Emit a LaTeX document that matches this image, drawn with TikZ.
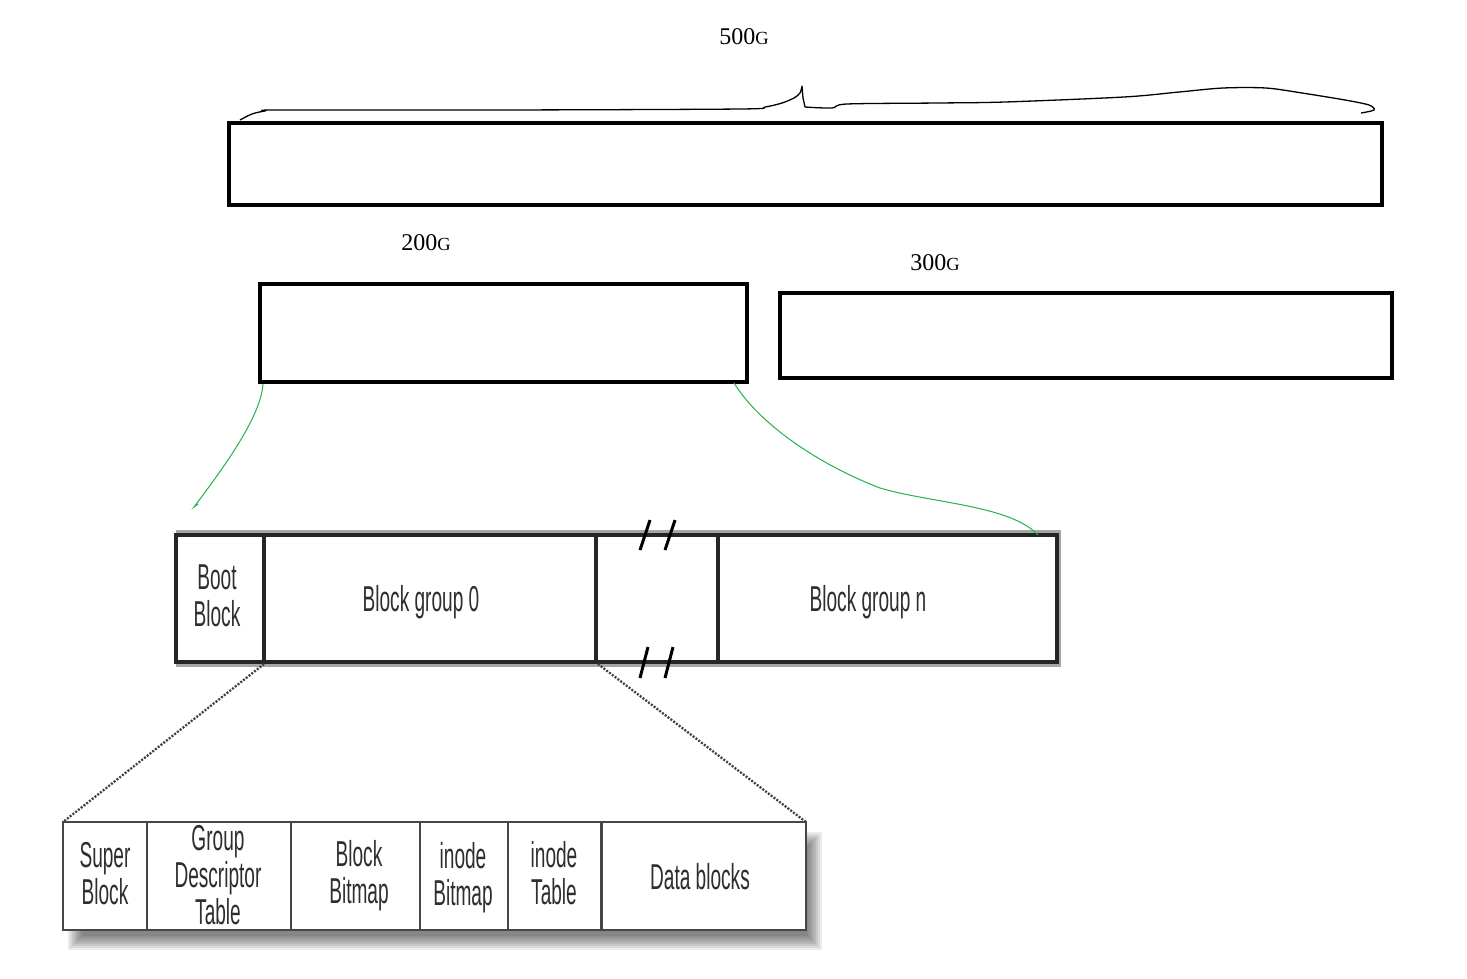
\documentclass[tikz,border=0pt]{standalone}
\usepackage{fontspec}
\usepackage{graphicx}
\newfontfamily\sansc{Liberation Sans}
\newfontfamily\serifc{Liberation Serif}
\definecolor{paintgreen}{RGB}{34,177,76}
\newcommand\cnd[1]{\scalebox{0.53}[1]{\begin{tabular}{@{}c@{}}#1\end{tabular}}}
\newcommand\sizeG[1]{#1{\fontsize{18.5}{20}\selectfont G}}
\begin{document}
\begin{tikzpicture}[x=1pt,y=-1pt,
  thickbox/.style={draw=black, line width=4pt, inner sep=0pt, outer sep=0pt},
  midcell/.style={draw=black!85, fill=white, line width=3.5pt, inner sep=0pt, outer sep=0pt, minimum height=127pt},
  lowcell/.style={draw=black!72, fill=white, line width=2.2pt, inner sep=0pt, outer sep=0pt, minimum height=108pt},
  lbl/.style={font=\sansc\fontsize{36}{36}\selectfont, text=black!82, inner sep=0pt},
  toplbl/.style={font=\serifc\fontsize{24}{26}\selectfont, inner sep=0pt},
  grn/.style={draw=paintgreen, line width=1pt},
  zoomline/.style={draw=black!75, line width=2.3pt, dash pattern=on 2pt off 1.5pt},
  brk/.style={draw=black, line width=3pt}
]
\useasboundingbox (0,0) rectangle (1467,978);

% --- top: whole disk ---
\node[toplbl] (t500) at (744,37) {\sizeG{500}};
\node[thickbox, minimum width=1153pt, minimum height=82pt] (disk) at (805.5,164) {};
\draw[line width=1.3pt, line join=round]
  plot[smooth, tension=0.5] coordinates {(240,120) (252,114) (265,111) (280,110) (500,110) (740,109) (765,107) (782,103) (794,98) (800,93) (802,86)}
  -- (803,98) -- (805,107)
  plot[smooth, tension=0.5] coordinates {(805,107) (832,108) (847,104) (938,103) (1005,102) (1124,97) (1179,92) (1223,88) (1266,88) (1302,93) (1345,100) (1369,105) (1374,110) (1361,113)};

% --- partitions ---
\node[toplbl] (t200) at (426,243) {\sizeG{200}};
\node[toplbl] (t300) at (935,263) {\sizeG{300}};
\node[thickbox, minimum width=487pt, minimum height=98pt] (p200) at (503.5,333) {};
\node[thickbox, minimum width=612pt, minimum height=85pt] (p300) at (1086,335.5) {};

% --- block groups row ---
\draw[gray!70, line width=3.5pt] (178,532) rectangle (1059,665);
\node[midcell, minimum width=88pt] (boot) at (220,598.5) {};
\node[midcell, minimum width=332pt] (bg0) at (430,598.5) {};
\node[midcell, minimum width=122pt] (gap) at (657,598.5) {};
\node[midcell, minimum width=339pt] (bgn) at (887.5,598.5) {};
\node[lbl] (tboot) at (217,601) {\cnd{Boot\\Block}};
\node[lbl] (tbg0) at (421,604) {\cnd{Block group 0}};
\node[lbl] (tbgn) at (868,604) {\cnd{Block group n}};
\draw[brk] (640,550) -- (650,520);
\draw[brk] (665,550) -- (675,520);
\draw[brk] (640,678) -- (648,647);
\draw[brk] (665,678) -- (673,647);

% --- green connectors ---
\coordinate (gl) at (194,507);
\draw[grn] ([xshift=3pt,yshift=-2pt]p200.south west) .. controls (261,415) and (228,462) .. (gl) -- (198,504);
\draw[grn] ([xshift=-13pt,yshift=-1pt]p200.south east) .. controls (760,425) and (820,465) .. (880,488)
  .. controls (930,503) and (1010,505) .. ([xshift=-19pt]bgn.north east);

% --- bottom row shadow ---
\foreach \i in {0,...,7} {
  \fill[black, opacity=0.08] (68+2*\i,832+2*\i) rectangle (822-2*\i,950-2*\i);
}
\node[lowcell, minimum width=84pt] (sb) at (105,876) {};
\node[lowcell, minimum width=144pt] (gdt) at (219,876) {};
\node[lowcell, minimum width=129pt] (bbm) at (355.5,876) {};
\node[lowcell, minimum width=88pt] (ibm) at (464,876) {};
\node[lowcell, minimum width=93pt] (itb) at (554.5,876) {};
\node[lowcell, minimum width=205pt] (db) at (703.5,876) {};
\draw[black!72, line width=3pt] (db.north west) -- (db.south west);
\node[lbl] (tsb) at (105,879) {\cnd{Super\\Block}};
\node[lbl] (tgdt) at (218,880) {\cnd{Group\\Descriptor\\Table}};
\node[lbl] (tbbm) at (359,877) {\cnd{Block\\Bitmap}};
\node[lbl] (tibm) at (463,879) {\cnd{inode\\Bitmap}};
\node[lbl] (titb) at (554,878) {\cnd{inode\\Table}};
\node[lbl] (tdb) at (700,882) {\cnd{Data blocks}};

% --- zoom (dotted) connectors ---
\draw[zoomline] ([yshift=-2pt]bg0.south west) -- (sb.north west);
\draw[zoomline] ([xshift=2pt,yshift=-2pt]gap.south west) -- (db.north east);
\end{tikzpicture}
\end{document}
